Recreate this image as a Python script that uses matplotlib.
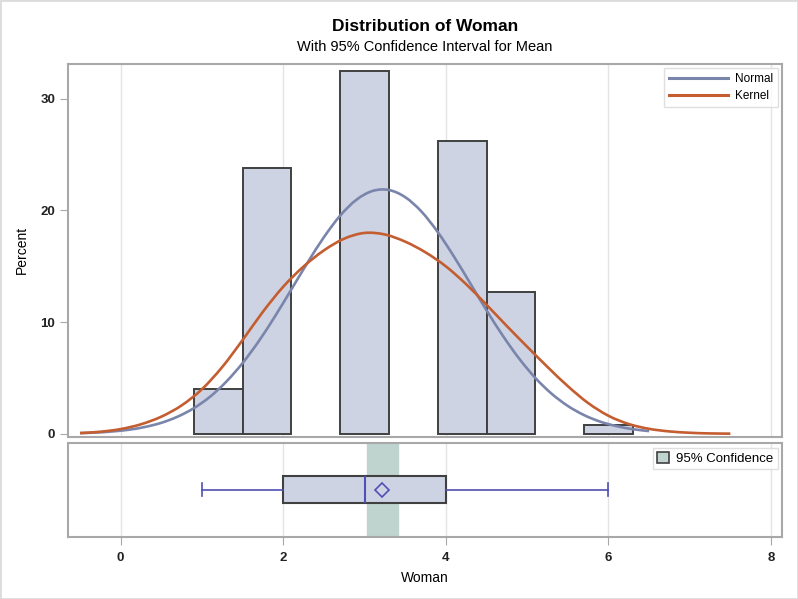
import numpy as np
import matplotlib
matplotlib.use("Agg")
import matplotlib.pyplot as plt
from matplotlib.patches import Patch, Rectangle, PathPatch
from matplotlib.path import Path
from matplotlib.lines import Line2D

plt.rcParams['font.family'] = ['Liberation Sans', 'DejaVu Sans']

# histogram (percent per bin)
bin_centers = [1.2, 1.8, 3.0, 4.2, 4.8, 6.0]
percent = [4.0, 23.8, 32.5, 26.2, 12.7, 0.8]
bin_width = 0.6

# normal curve
normal_x = [-0.5, -0.3, -0.1, 0.1, 0.3, 0.5, 0.7, 0.9, 1.1, 1.3, 1.5, 1.7,
            1.9, 2.1, 2.3, 2.5, 2.7, 2.9, 3.1, 3.3, 3.5, 3.7, 3.9, 4.1,
            4.3, 4.5, 4.7, 4.9, 5.1, 5.3, 5.5, 5.7, 5.9, 6.1, 6.3, 6.5]
normal_y = [0.07, 0.12, 0.22, 0.37, 0.62, 0.99, 1.54, 2.30, 3.33, 4.68, 6.34, 8.31,
            10.54, 12.93, 15.34, 17.60, 19.53, 20.95, 21.74, 21.82, 21.18, 19.89, 18.06, 15.86,
            13.47, 11.06, 8.79, 6.75, 5.01, 3.60, 2.50, 1.68, 1.09, 0.69, 0.42, 0.25]

# kernel curve
kernel_x = [-0.5, -0.25, 0.0, 0.25, 0.5, 0.75, 1.0, 1.25, 1.5, 1.75, 2.0, 2.25,
            2.5, 2.75, 3.0, 3.25, 3.5, 3.75, 4.0, 4.25, 4.5, 4.75, 5.0, 5.25,
            5.5, 5.75, 6.0, 6.25, 6.5, 6.75, 7.0, 7.25, 7.5]
kernel_y = [0.07, 0.19, 0.43, 0.86, 1.54, 2.55, 4.00, 5.99, 8.40, 10.93, 13.17, 14.98,
            16.42, 17.47, 17.98, 17.84, 17.20, 16.24, 14.99, 13.39, 11.55, 9.65, 7.80, 5.99,
            4.27, 2.76, 1.62, 0.88, 0.45, 0.22, 0.10, 0.04, 0.02]

# box plot summary
q1, median, q3 = 2.0, 3.0, 4.0
whis_lo, whis_hi = 1.0, 6.0
mean = 3.22
ci_lo, ci_hi = 3.03, 3.41

bar_fill = '#cdd3e3'
edge = '#404040'
frame = '#a8a8a8'
grid = '#e4e4e4'
box_blue = '#4f4fb5'
normal_color = '#7a85ab'
kernel_color = '#c45d30'


def smooth_path(xs, ys):
    # draw a smooth curve through the read points (Catmull-Rom as cubic Beziers)
    p = np.column_stack([xs, ys])
    p = np.vstack([p[0], p, p[-1]])
    verts = [p[1]]
    codes = [Path.MOVETO]
    for i in range(1, len(p) - 2):
        c1 = p[i] + (p[i + 1] - p[i - 1]) / 6
        c2 = p[i + 1] - (p[i + 2] - p[i]) / 6
        verts += [c1, c2, p[i + 1]]
        codes += [Path.CURVE4] * 3
    return Path(verts, codes)


fig = plt.figure(figsize=(7.98, 5.99), dpi=100)
fig.patches.append(Rectangle((0, 0), 1, 1, transform=fig.transFigure, fill=False,
                             edgecolor='#dcdcdc', lw=2))

ax = fig.add_axes([0.0848, 0.2710, 0.8955, 0.6222])
ax2 = fig.add_axes([0.0848, 0.1040, 0.8955, 0.1560], sharex=ax)

ax.bar(bin_centers, percent, width=bin_width, color=bar_fill, edgecolor=edge,
       linewidth=1.4, zorder=2)
ax.add_patch(PathPatch(smooth_path(normal_x, normal_y), fill=False,
                       edgecolor=normal_color, lw=1.9, zorder=3))
ax.add_patch(PathPatch(smooth_path(kernel_x, kernel_y), fill=False,
                       edgecolor=kernel_color, lw=1.9, zorder=3))

ax.set_xlim(-0.652, 8.138)
ax.set_ylim(-0.25, 33.1)
ax.set_yticks([0, 10, 20, 30])
ax.set_xticks([0, 2, 4, 6, 8])
ax.xaxis.grid(True, color=grid, lw=1, zorder=0)
ax.set_axisbelow(True)
ax.tick_params(axis='x', length=0, labelbottom=False)
ax.tick_params(axis='y', length=6, color=frame, labelsize=9.5, pad=3)
for t in ax.get_yticklabels():
    t.set_fontweight('bold')
    t.set_color('#222222')
ax.set_ylabel('Percent', fontsize=10, labelpad=8)
for s in ax.spines.values():
    s.set_color(frame)
    s.set_linewidth(1.5)

handles = [Line2D([], [], color=normal_color, lw=2.2, label='Normal'),
           Line2D([], [], color=kernel_color, lw=2.2, label='Kernel')]
leg = ax.legend(handles=handles, loc='upper right', fontsize=8.5, handlelength=5.0,
                frameon=True, fancybox=False, edgecolor='#d8d8d8', borderaxespad=0.35,
                borderpad=0.4, labelspacing=0.45, handletextpad=0.6)
leg.get_frame().set_linewidth(1.0)

# box panel
ax2.axvspan(ci_lo, ci_hi, color='#bfd3cf', zorder=1)
stats = [dict(med=median, q1=q1, q3=q3, whislo=whis_lo, whishi=whis_hi, mean=mean)]
ax2.bxp(stats, positions=[0.505], widths=0.295, orientation='horizontal',
        showmeans=True, showfliers=False, patch_artist=True,
        boxprops=dict(facecolor=bar_fill, edgecolor=edge, linewidth=1.5),
        medianprops=dict(color=box_blue, linewidth=1.5),
        whiskerprops=dict(color=box_blue, linewidth=1.2),
        capprops=dict(color=box_blue, linewidth=1.2),
        meanprops=dict(marker='D', markerfacecolor='none', markeredgecolor=box_blue,
                       markersize=7, markeredgewidth=1.2),
        zorder=3)
ax2.set_ylim(0, 1)
ax2.set_yticks([])
ax2.xaxis.grid(True, color=grid, lw=1, zorder=0)
ax2.set_axisbelow(True)
ax2.set_xticks([0, 2, 4, 6, 8])
ax2.set_xticklabels(['0', '2', '4', '6', '8'])
ax2.tick_params(axis='x', length=6, color=frame, labelsize=9.5, pad=5)
for t in ax2.get_xticklabels():
    t.set_fontweight('bold')
    t.set_color('#222222')
ax2.set_xlabel('Woman', fontsize=10, labelpad=5)
for s in ax2.spines.values():
    s.set_color(frame)
    s.set_linewidth(1.5)

leg2 = ax2.legend(handles=[Patch(facecolor='#bfd3cf', edgecolor=edge, lw=1.2,
                                 label='95% Confidence')],
                  loc='upper right', fontsize=9.5, handlelength=0.9, handleheight=0.9,
                  frameon=True, fancybox=False, edgecolor='#d8d8d8',
                  borderaxespad=0.35, borderpad=0.3, handletextpad=0.6)
leg2.get_frame().set_linewidth(1.0)

fig.text(0.5326, 0.955, 'Distribution of Woman', ha='center', va='center',
         fontsize=12.5, fontweight='bold')
fig.text(0.5326, 0.921, 'With 95% Confidence Interval for Mean', ha='center',
         va='center', fontsize=10.5)

fig.savefig('out.png', dpi=100)
